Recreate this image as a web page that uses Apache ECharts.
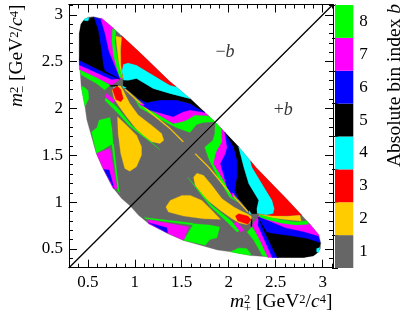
<!DOCTYPE html>
<html><head><meta charset="utf-8">
<style>html,body{margin:0;padding:0;background:#fff}#c{width:407px;height:314px}</style>
<script src="https://cdn.jsdelivr.net/npm/echarts@6/dist/echarts.min.js"></script>
</head><body><div id="c"></div>
<script>
const binLabels = ['1','2','3','4','5','6','7','8'];
const binColors = ['#666666','#ffcc00','#ff0000','#00ffff','#000000','#0000ff','#ff00ff','#00ff00'];
const xMajor = [0.5,1,1.5,2,2.5,3];
const yMajor = [0.5,1,1.5,2,2.5,3];
const minorTicks = [0.3,0.4,0.6,0.7,0.8,0.9,1.1,1.2,1.3,1.4,1.6,1.7,1.8,1.9,2.1,2.2,2.3,2.4,2.6,2.7,2.8,2.9,3.1];
const diagonal = [[0.3,0.3],[3.11,3.11]];
const annotations = [[1.96,2.60,'{r|−}{i|b}'],[2.58,1.98,'{r|+}{i|b}']];

const outline = [[.955,.955],[.86,1.04],[.77,1.15],[.66,1.36],[.59,1.52],[.54,1.70],[.49,1.88],[.47,2.02],[.43,2.23],[.41,2.52],[.41,2.80],[.44,2.92],[.50,2.975],[.56,2.98],[.65,2.96],[.77,2.86],[.90,2.74],[1.05,2.60],[1.37,2.29],[1.44,2.232],[1.59,2.105],[1.746,1.958],[1.85,1.86]];
const greenBandRight = [[1.0,2.10],[1.054,2.04],[1.143,1.993],[1.232,1.947],[1.409,1.84],[1.498,1.858],[1.551,1.876],[1.64,1.929],[1.782,1.925],[1.853,1.858],[1.728,1.851],[1.658,1.83],[1.587,1.744],[1.445,1.795],[1.249,1.895],[1.054,2.008]];
const magentaBandRight = [[1.054,2.05],[1.16,2.04],[1.409,1.95],[1.587,2.0],[1.746,1.958],[1.80,1.908],[1.782,1.925],[1.64,1.929],[1.551,1.876],[1.498,1.858],[1.409,1.84],[1.232,1.947],[1.143,1.993],[1.054,2.04]];
const blueThin = [[.90,2.26],[1.036,2.10],[1.125,2.03],[1.125,2.065],[1.036,2.13]];
const blueBandRight = [[1.125,2.065],[1.267,2.09],[1.445,2.09],[1.587,2.054],[1.746,1.958],[1.587,1.983],[1.516,1.965],[1.409,1.912],[1.16,1.983],[1.09,2.03]];
const blackBandRight = [[.877,2.303],[.93,2.30],[1.019,2.32],[1.196,2.214],[1.373,2.161],[1.59,2.105],[1.746,1.958],[1.587,2.054],[1.445,2.09],[1.267,2.09],[1.125,2.065],[1.036,2.107],[.948,2.178],[.877,2.231]];
const cyanBand = [[.869,2.48],[.93,2.488],[1.019,2.463],[1.196,2.356],[1.373,2.25],[1.44,2.232],[1.59,2.105],[1.373,2.161],[1.196,2.214],[1.019,2.32],[.93,2.30],[.877,2.303],[.859,2.392]];
const redTop = [[.859,2.778],[.90,2.74],[1.05,2.60],[1.37,2.29],[1.44,2.232],[1.373,2.25],[1.196,2.356],[1.019,2.463],[.93,2.488],[.877,2.473],[.859,2.392],[.877,2.303],[.848,2.463]];
const orangeVertical = [[.798,2.772],[.859,2.758],[.848,2.623],[.852,2.463],[.869,2.32],[.834,2.445],[.813,2.623]];
const greenVertical = [[.763,2.85],[.798,2.83],[.788,2.712],[.813,2.552],[.866,2.32],[.834,2.338],[.777,2.552],[.756,2.712]];
const greenBandLeft = [[.408,2.427],[.593,2.345],[.735,2.249],[.681,2.196],[.593,2.267],[.433,2.356]];
const magentaTop = [[.628,2.961],[.65,2.96],[.77,2.86],[.759,2.73],[.788,2.552],[.852,2.32],[.752,2.249],[.593,2.331],[.41,2.417],[.41,2.516]];
const blueTop = [[.564,2.975],[.635,2.955],[.681,2.801],[.724,2.605],[.841,2.32],[.752,2.31],[.41,2.463],[.41,2.523]];
const blackTop = [[.41,2.80],[.426,2.90],[.468,2.955],[.564,2.975],[.61,2.837],[.639,2.659],[.664,2.463],[.681,2.402],[.841,2.31],[.681,2.381],[.41,2.516]];
const cyanCorner = [[.461,2.955],[.515,2.972],[.504,2.936],[.468,2.936]];
const greenLobeEdge = [[.432,2.24],[.47,2.22],[.504,2.189],[.511,2.107],[.47,2.02],[.45,2.12]];
const greenLobeLeft = [[.54,1.75],[.60,1.80],[.62,1.875],[.735,1.904],[.755,1.80],[.77,1.627],[.593,1.52]];
const greenStrip = [[.755,1.62],[.775,1.62],[.835,1.10],[.82,1.13]];
const magentaEdge = [[.593,1.52],[.735,1.573],[.813,1.146],[.77,1.146],[.664,1.36]];
const blueEdge = [[.671,1.349],[.727,1.342],[.781,1.146]];
const greenThin = [[.681,2.089],[.699,2.125],[.823,2.0],[.965,1.822],[1.267,1.562],[.947,1.812],[.823,1.947]];
const magentaThin = [[.681,2.125],[.699,2.16],[.787,2.089],[.77,2.054]];
const orangeLobeA = [[.816,1.911],[.912,1.822],[1.018,1.715],[1.072,1.591],[1.072,1.502],[1.018,1.377],[.947,1.331],[.894,1.359],[.851,1.52],[.823,1.733]];
const orangeLobeB = [[.80,2.24],[.85,2.24],[.876,2.196],[.901,2.143],[.947,2.054],[1.036,1.929],[1.178,1.822],[1.285,1.733],[1.309,1.662],[1.267,1.626],[1.178,1.644],[1.054,1.733],[.912,1.911],[.823,2.036],[.78,2.107],[.759,2.196]];
const orangeThin = [[.90,2.21],[1.16,1.97],[1.373,1.795],[1.52,1.648],[1.51,1.642],[1.373,1.78],[1.16,1.955],[.895,2.20]];
const redBlob = [[.763,2.203],[.813,2.239],[.852,2.203],[.877,2.107],[.852,2.071],[.798,2.096]];
const blackSliver = [[.735,2.245],[.81,2.25],[.82,2.24],[.745,2.235]];
const cyanBitA = [[.77,2.225],[.84,2.225],[.83,2.19],[.80,2.20]];
const cyanBitB = [[.87,2.24],[.91,2.22],[.88,2.215]];

const regions = [
  [1,outline],[8,greenBandLeft],[8,greenLobeEdge],[8,greenLobeLeft],[8,greenStrip],[7,magentaEdge],[6,blueEdge],
  [2,orangeLobeA],[2,orangeLobeB],[8,greenThin],[7,magentaThin],
  [8,greenBandRight],[2,orangeThin],[7,magentaBandRight],[6,blueThin],[6,blueBandRight],[5,blackBandRight],
  [4,cyanBand],[3,redTop],[2,orangeVertical],[7,magentaTop],[8,greenVertical],[6,blueTop],[5,blackTop],[4,cyanCorner],
  [4,cyanBitA],[4,cyanBitB],[3,redBlob],[5,blackSliver]
];

const SERIF = '"Liberation Serif","Times New Roman",serif';
const ink = '#000';
const titleRich = {
  r:{fontFamily:SERIF,fontSize:19.5,color:ink},
  i:{fontFamily:SERIF,fontSize:19.5,fontStyle:'italic',color:ink},
  p:{fontFamily:SERIF,fontSize:12.5,color:ink,verticalAlign:'bottom',padding:[0,0,9,0]},
  q:{fontFamily:SERIF,fontSize:12.5,color:ink,verticalAlign:'bottom',padding:[0,0,9,0],width:0,align:'left'},
  b:{fontFamily:SERIF,fontSize:12.5,color:ink,verticalAlign:'top',padding:[14,0,0,0]}
};
const noteRich = {
  r:{fontFamily:SERIF,fontSize:18,color:ink},
  i:{fontFamily:SERIF,fontSize:18,fontStyle:'italic',color:ink}
};
const axisBase = {type:'value',min:0.3,max:3.11,gridIndex:0,splitLine:{show:false},axisLine:{show:true,onZero:false,lineStyle:{color:ink,width:1}}};
const major = {show:true,inside:true,length:8,customValues:xMajor,lineStyle:{color:ink,width:1}};
const minor = {show:true,inside:true,length:4,customValues:minorTicks,lineStyle:{color:ink,width:1}};
const tickLabels = (vals)=>({show:true,customValues:vals,fontFamily:SERIF,fontSize:17,color:ink,margin:6});

const chart = echarts.init(document.getElementById('c'),null,{renderer:'canvas'});
chart.setOption({
  animation:false,
  backgroundColor:'#fff',
  grid:[
    {left:69,top:4.5,width:264,height:263.2,containLabel:false},
    {left:335,top:5,width:18.3,height:263,containLabel:false}
  ],
  xAxis:[
    {...axisBase,position:'bottom',axisTick:major,axisLabel:tickLabels(xMajor)},
    {...axisBase,position:'bottom',axisTick:minor,axisLabel:{show:false}},
    {...axisBase,position:'top',axisTick:major,axisLabel:{show:false}},
    {...axisBase,position:'top',axisTick:minor,axisLabel:{show:false}},
    {type:'value',gridIndex:1,min:0,max:1,show:false}
  ],
  yAxis:[
    {...axisBase,position:'left',axisTick:{...major,customValues:yMajor},axisLabel:tickLabels(yMajor)},
    {...axisBase,position:'left',axisTick:minor,axisLabel:{show:false}},
    {...axisBase,position:'right',axisTick:{...major,customValues:yMajor},axisLabel:{show:false}},
    {...axisBase,position:'right',axisTick:minor,axisLabel:{show:false}},
    {type:'category',gridIndex:1,position:'right',data:binLabels,
     axisLine:{show:true,lineStyle:{color:'#333',width:1}},
     axisTick:{show:true,inside:true,length:3,lineStyle:{color:'#000'}},
     axisLabel:{fontFamily:SERIF,fontSize:17,color:ink,margin:6}},
    {type:'category',gridIndex:1,position:'left',data:binLabels,
     axisLine:{show:true,lineStyle:{color:'#333',width:1}},
     axisTick:{show:true,inside:true,length:3,lineStyle:{color:'#000'}},
     axisLabel:{show:false}}
  ],
  series:[
    {type:'custom',xAxisIndex:0,yAxisIndex:0,silent:true,
     data:regions.flatMap((r,i)=>[[i,0],[i,1]]),
     encode:{},
     renderItem(params,api){
       const i=api.value(0), flip=api.value(1), r=regions[i];
       const pts=r[1].map(p=>api.coord(flip?[p[1],p[0]]:p));
       return {type:'polygon',shape:{points:pts,smooth:0},style:{fill:binColors[r[0]-1],stroke:binColors[r[0]-1],lineWidth:0.3}};
     }},
    {type:'line',xAxisIndex:0,yAxisIndex:0,data:diagonal,symbol:'none',silent:true,z:5,lineStyle:{color:ink,width:1.3}},
    {type:'scatter',xAxisIndex:0,yAxisIndex:0,symbolSize:0,silent:true,
     data:annotations.map(a=>({value:[a[0],a[1]],label:{formatter:a[2]}})),
     label:{show:true,position:'inside',rich:noteRich}},
    {type:'bar',xAxisIndex:4,yAxisIndex:4,barWidth:'100%',silent:true,
     data:binLabels.map((b,i)=>({value:1,itemStyle:{color:binColors[i]}}))}
  ],
  graphic:[
    {type:'text',x:230,y:302,style:{text:'{i|m}{q|2}{b|+}{r| [GeV}{p|2}{r|/}{i|c}{p|4}{r|]}',rich:titleRich,align:'left',verticalAlign:'middle',font:'19.5px '+SERIF}},
    {type:'text',x:17,y:107,rotation:Math.PI/2,style:{text:'{i|m}{q|2}{b|−}{r| [GeV}{p|2}{r|/}{i|c}{p|4}{r|]}',rich:titleRich,align:'left',verticalAlign:'middle',font:'19.5px '+SERIF}},
    {type:'text',x:395,y:167,rotation:Math.PI/2,style:{text:'{r|Absolute bin index }{i|b}',rich:titleRich,align:'left',verticalAlign:'middle',font:'19.5px '+SERIF}}
  ]
});
</script></body></html>
